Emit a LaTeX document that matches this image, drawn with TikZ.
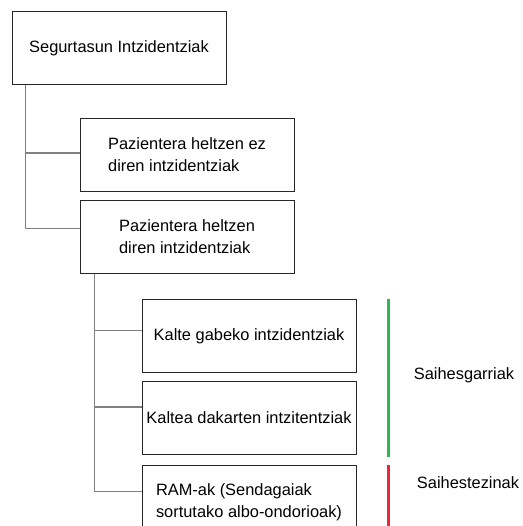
\documentclass[tikz,border=0pt]{standalone}
\usepackage{fontspec}
\setmainfont{Liberation Sans}
\usetikzlibrary{positioning}
\definecolor{berdea}{RGB}{45,184,77}
\definecolor{gorria}{RGB}{238,36,56}
\begin{document}
\begin{tikzpicture}[node distance=8pt, font=\fontsize{16.4}{22}\selectfont]
		\tikzstyle{bloc} = [rectangle, draw=black!85, line width=1pt, minimum width=214pt, minimum height=73pt, inner sep=3pt, align=left]
		\tikzstyle{lotura} = [draw=black!50, line width=1.6pt]
		\tikzstyle{marra} = [line width=2.5pt]
		\useasboundingbox (0,0) rectangle (522pt,-526pt);
		\node[bloc] (intzid) at (119pt,-48pt) {Segurtasun Intzidentziak};
		\node[bloc, below=33pt of intzid, xshift=68pt] (ez_heltzen) {Pazientera heltzen ez\\diren intzidentziak};
		\node[bloc, below=of ez_heltzen] (heltzen) {Pazientera heltzen\\diren intzidentziak};
		\node[bloc, below=25pt of heltzen, xshift=62pt] (kalte_gabe) {Kalte gabeko intzidentziak};
		\node[bloc, below=of kalte_gabe] (kaltea) {Kaltea dakarten intzitentziak};
		\node[bloc, below=10pt of kaltea] (ram) {RAM-ak (Sendagaiak\\sortutako albo-ondorioak)};
		\node (saihesgarri) at (464pt,-375pt) {Saihesgarriak};
		\node (saihestezin) at (468pt,-483pt) {Saihestezinak};
		\coordinate (enbor1) at ([xshift=14pt]intzid.south west);
		\coordinate (enbor2) at ([xshift=15pt]heltzen.south west);
		\coordinate (berde_goi) at ([xshift=32pt]kalte_gabe.north east);
		\coordinate (berde_behe) at ([xshift=32pt, yshift=-2pt]kaltea.south east);
		\coordinate (gorri_goi) at ([xshift=32pt]ram.north east);
		\coordinate (gorri_behe) at ([xshift=32pt]ram.south east);
		\draw[lotura] (enbor1) |- ([yshift=2pt]ez_heltzen.west);
		\draw[lotura] (enbor1) |- ([yshift=8.5pt]heltzen.west);
		\draw[lotura] (enbor2) |- ([yshift=5.5pt]kalte_gabe.west);
		\draw[lotura] (enbor2) |- ([yshift=11pt]kaltea.west);
		\draw[lotura] (enbor2) |- ([yshift=10.5pt]ram.west);
		\draw[marra, berdea] (berde_goi) -- (berde_behe);
		\draw[marra, gorria] (gorri_goi) -- (gorri_behe);
	\end{tikzpicture}
\end{document}
